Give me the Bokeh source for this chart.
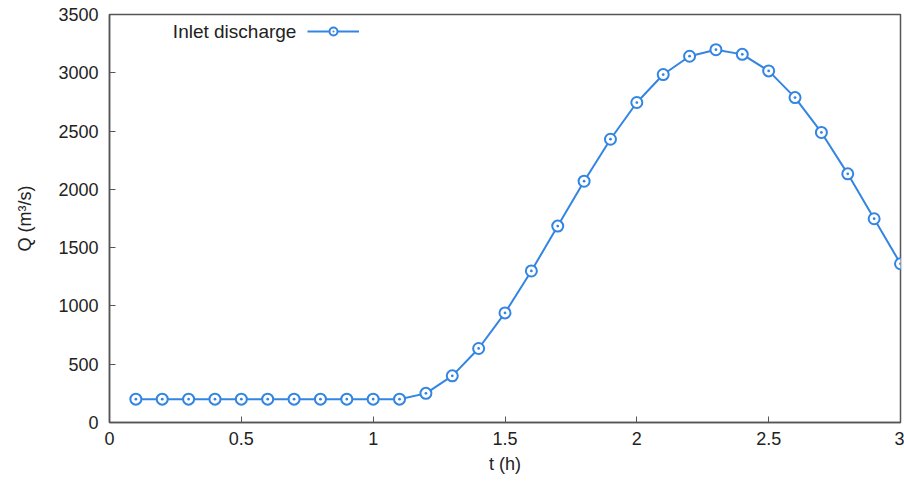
from bokeh.plotting import figure
from bokeh.models import (FixedTicker, CustomJSTickFormatter, Legend, LegendItem,
                          Label, Range1d, ColumnDataSource)
from bokeh.embed import file_html
from bokeh.resources import INLINE

t_hours = [0.1, 0.2, 0.3, 0.4, 0.5, 0.6, 0.7, 0.8, 0.9, 1.0,
           1.1, 1.2, 1.3, 1.4, 1.5, 1.6, 1.7, 1.8, 1.9, 2.0,
           2.1, 2.2, 2.3, 2.4, 2.5, 2.6, 2.7, 2.8, 2.9, 3.0]
inlet_discharge = [200, 200, 200, 200, 200, 200, 200, 200, 200, 200,
                   200, 250, 400, 635, 940, 1300, 1685, 2070, 2430, 2745,
                   2985, 3142, 3198, 3158, 3016, 2787, 2488, 2133, 1748, 1362]
x_ticks = [0, 0.5, 1, 1.5, 2, 2.5, 3]
y_ticks = [0, 500, 1000, 1500, 2000, 2500, 3000, 3500]
series_name = "Inlet discharge"

FONT = "Liberation Sans"
BLUE = "#3385e2"
AXIS = "#555555"
TEXT = "#222222"

p = figure(width=904, height=483, output_backend="svg", toolbar_location=None,
           x_range=Range1d(0, 3), y_range=Range1d(0, 3500),
           min_border_left=109, min_border_right=4, min_border_top=14,
           min_border_bottom=61)
p.grid.visible = False
p.background_fill_color = "white"
p.border_fill_color = "white"
p.outline_line_color = AXIS
p.outline_line_width = 1.5

src = ColumnDataSource(dict(t=t_hours, q=inlet_discharge))
r_line = p.line("t", "q", source=src, line_color=BLUE, line_width=2)
r_pts = p.scatter("t", "q", source=src, marker="circle_dot", size=11,
                  line_color=BLUE, line_width=2, fill_color="white")

for ax in (p.xaxis[0], p.yaxis[0]):
    ax.axis_line_color = AXIS
    ax.axis_line_width = 1.5
    ax.major_tick_in = 6
    ax.major_tick_out = 0
    ax.major_tick_line_color = AXIS
    ax.minor_tick_line_color = None
    ax.major_label_text_font = FONT
    ax.major_label_text_font_size = "18px"
    ax.major_label_text_color = TEXT
    ax.axis_label_text_font = FONT
    ax.axis_label_text_font_size = "18px"
    ax.axis_label_text_font_style = "normal"
    ax.axis_label_text_color = TEXT

p.xaxis.ticker = FixedTicker(ticks=x_ticks)
p.yaxis.ticker = FixedTicker(ticks=y_ticks)
p.xaxis.formatter = CustomJSTickFormatter(code="return tick.toString();")
p.yaxis.formatter = CustomJSTickFormatter(code="return tick.toString();")
p.xaxis.axis_label = "t (h)"
p.yaxis.axis_label = "Q (m³/s)"
p.xaxis.major_label_standoff = 9
p.yaxis.major_label_standoff = 11
p.xaxis.axis_label_standoff = 6
p.yaxis.axis_label_standoff = 20

legend = Legend(items=[LegendItem(label=" ", renderers=[r_line, r_pts])],
                location=(198, 381), padding=0, margin=0, spacing=0,
                label_standoff=0, glyph_width=52, glyph_height=20,
                label_width=0, border_line_color=None,
                background_fill_alpha=0, label_text_font_size="1px")
p.add_layout(legend)
p.add_layout(Label(x=0.709, y=3354, text=series_name, text_align="right",
                   text_baseline="middle", text_font=FONT,
                   text_font_size="19px", text_color=TEXT))

open("out.html", "w").write(file_html(p, INLINE))
